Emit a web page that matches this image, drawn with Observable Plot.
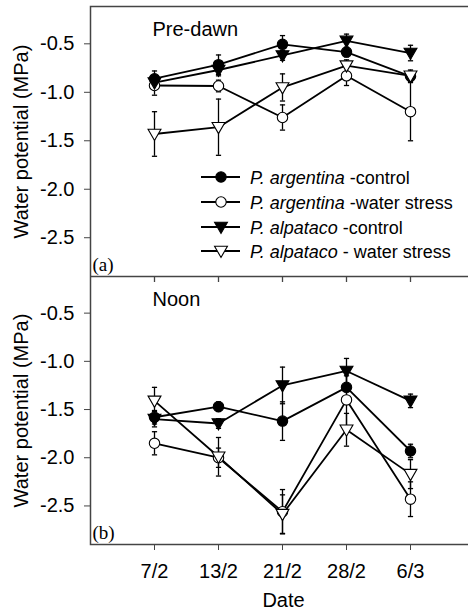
<!DOCTYPE html>
<html>
<head>
<meta charset="utf-8">
<script src="https://cdn.jsdelivr.net/npm/d3@7"></script>
<script src="https://cdn.jsdelivr.net/npm/@observablehq/plot@0.6"></script>
<style>
  body { margin: 0; background: #fff; }
  #chart { width: 468px; height: 611px; overflow: hidden; }
  #chart svg { display: block; }
</style>
</head>
<body>
<div id="chart"></div>
<script>
// ---- Data ----
const dates = ["7/2", "13/2", "21/2", "28/2", "6/3"];
const speciesNames = ["P. argentina", "P. argentina", "P. alpataco", "P. alpataco"];
const treatmentNames = [" -control", " -water stress", " -control", " - water stress"];
const yTicks = [-0.5, -1.0, -1.5, -2.0, -2.5];

// Pre-dawn (a)
const predawnArgCtrl = [-0.86, -0.715, -0.505, -0.585, -0.835];
const predawnArgCtrlErr = [0.08, 0.10, 0.09, 0.05, 0.05];
const predawnArgWS = [-0.93, -0.935, -1.26, -0.83, -1.20];
const predawnArgWSErr = [0.10, 0.06, 0.13, 0.10, 0.30];
const predawnAlpCtrl = [-0.90, -0.77, -0.62, -0.47, -0.595];
const predawnAlpCtrlErr = [0.07, 0.06, 0.05, 0.07, 0.08];
const predawnAlpWS = [-1.43, -1.36, -0.95, -0.725, -0.83];
const predawnAlpWSErr = [0.23, 0.29, 0.14, 0.06, 0.06];

// Noon (b)
const noonArgCtrl = [-1.58, -1.47, -1.62, -1.27, -1.93];
const noonArgCtrlErr = [0.07, 0.05, 0.20, 0.12, 0.07];
const noonArgWS = [-1.85, -2.00, -2.56, -1.40, -2.43];
const noonArgWSErr = [0.12, 0.10, 0.23, 0.30, 0.18];
const noonAlpCtrl = [-1.60, -1.645, -1.25, -1.10, -1.41];
const noonAlpCtrlErr = [0.08, 0.05, 0.19, 0.13, 0.07];
const noonAlpWS = [-1.41, -1.99, -2.585, -1.71, -2.17];
const noonAlpWSErr = [0.14, 0.20, 0.20, 0.17, 0.15];

// ---- Styling ----
const FONT = "'Liberation Sans', Arial, Helvetica, sans-serif";
const triDown = {
  draw(ctx, size) {
    const r = Math.sqrt(size / Math.PI);
    ctx.moveTo(-1.15 * r, -0.85 * r);
    ctx.lineTo(1.15 * r, -0.85 * r);
    ctx.lineTo(0, 1.15 * r);
    ctx.closePath();
  }
};
const capSymbol = {
  draw(ctx, size) {
    const r = Math.sqrt(size / Math.PI);
    ctx.moveTo(-r, 0);
    ctx.lineTo(r, 0);
  }
};
const symbols = [d3.symbolCircle, d3.symbolCircle, triDown, triDown];
const fills = ["black", "white", "black", "white"];
const radii = [5.2, 5.2, 5.6, 5.6];

function rows(values, errors) {
  const out = [];
  values.forEach((vals, si) => vals.forEach((v, i) => out.push({date: dates[i], si, v, e: errors[si][i]})));
  return out;
}

const xScale = {type: "point", domain: dates, range: [89.1, 474.2], padding: 1};

function panelMarks(data, title, tag) {
  const marks = [
    Plot.frame({stroke: "#444", strokeWidth: 1.5}),
    Plot.axisY({ticks: yTicks, tickSize: 6, tickPadding: 10, tickFormat: d => d.toFixed(1), label: null, fontSize: 20, stroke: "#444"}),
    Plot.text(["Water potential (MPa)"], {frameAnchor: "left", textAnchor: "middle", rotate: -90, dx: -77, lineAnchor: "top", fontSize: 20}),
    Plot.text([title], {frameAnchor: "top-left", textAnchor: "start", lineAnchor: "top", dx: 62, dy: 15, fontSize: 20}),
    Plot.text([tag], {frameAnchor: "bottom-left", textAnchor: "start", lineAnchor: "bottom", dx: 2, dy: -6, fontSize: 19, fontFamily: "'Liberation Serif', 'Times New Roman', serif"}),
    Plot.ruleX(data, {x: "date", y1: d => d.v - d.e, y2: d => d.v + d.e, stroke: "black", strokeWidth: 1.3}),
    Plot.dot(data, {x: "date", y: d => d.v - d.e, symbol: capSymbol, r: 2.6, fill: "none", stroke: "black", strokeWidth: 1.3}),
    Plot.dot(data, {x: "date", y: d => d.v + d.e, symbol: capSymbol, r: 2.6, fill: "none", stroke: "black", strokeWidth: 1.3}),
    Plot.line(data, {x: "date", y: "v", z: "si", stroke: "black", strokeWidth: 1.8})
  ];
  for (let si = 0; si < 4; si++) {
    marks.push(Plot.dot(data.filter(d => d.si === si), {
      x: "date", y: "v", symbol: symbols[si], r: radii[si], fill: fills[si], stroke: "black", strokeWidth: 1.1
    }));
  }
  return marks;
}

const predawnData = rows(
  [predawnArgCtrl, predawnArgWS, predawnAlpCtrl, predawnAlpWS],
  [predawnArgCtrlErr, predawnArgWSErr, predawnAlpCtrlErr, predawnAlpWSErr]);
const noonData = rows(
  [noonArgCtrl, noonArgWS, noonAlpCtrl, noonAlpWS],
  [noonArgCtrlErr, noonArgWSErr, noonAlpCtrlErr, noonAlpWSErr]);

const topPlot = Plot.plot({
  width: 468, height: 276,
  marginLeft: 90, marginRight: -8, marginTop: 6, marginBottom: 0,
  style: {fontFamily: FONT, fontSize: "20px", background: "white", color: "black"},
  x: {...xScale, axis: null},
  y: {domain: [-2.9, -0.115], axis: null},
  marks: panelMarks(predawnData, "Pre-dawn", "(a)")
});

const bottomPlot = Plot.plot({
  width: 468, height: 335,
  marginLeft: 90, marginRight: -8, marginTop: 0, marginBottom: 67,
  style: {fontFamily: FONT, fontSize: "20px", background: "white", color: "black"},
  x: {...xScale, axis: null},
  y: {domain: [-2.9, -0.12], axis: null},
  marks: [
    ...panelMarks(noonData, "Noon", "(b)"),
    Plot.ruleX(dates, {x: d => d, insetBottom: 268 - 6, stroke: "#444", strokeWidth: 1.3}),
    Plot.axisX({tickSize: 6, tickPadding: 13, label: null, fontSize: 20, stroke: "#444"}),
    Plot.text(["Date"], {frameAnchor: "bottom", lineAnchor: "middle", dy: 56, fontSize: 20})
  ]
});

// ---- Legend (in the top panel) ----
const lg = d3.select(topPlot).append("g")
  .attr("font-family", FONT).attr("font-size", 18).attr("text-anchor", "start");
const legendRowY = [177, 202, 227, 251];
for (let si = 0; si < 4; si++) {
  const y = legendRowY[si];
  const g = lg.append("g");
  g.append("line").attr("x1", 201).attr("x2", 240).attr("y1", y).attr("y2", y)
    .attr("stroke", "black").attr("stroke-width", 1.8);
  g.append("path")
    .attr("d", d3.symbol().type(symbols[si]).size(Math.PI * radii[si] * radii[si])())
    .attr("transform", `translate(221,${y})`)
    .attr("fill", fills[si]).attr("stroke", "black").attr("stroke-width", 1.1);
  const t = g.append("text").attr("x", 250).attr("y", y + 6.5).attr("fill", "black");
  t.append("tspan").attr("font-style", "italic").text(speciesNames[si]);
  t.append("tspan").text(treatmentNames[si]);
}

document.getElementById("chart").append(topPlot, bottomPlot);
</script>
</body>
</html>
